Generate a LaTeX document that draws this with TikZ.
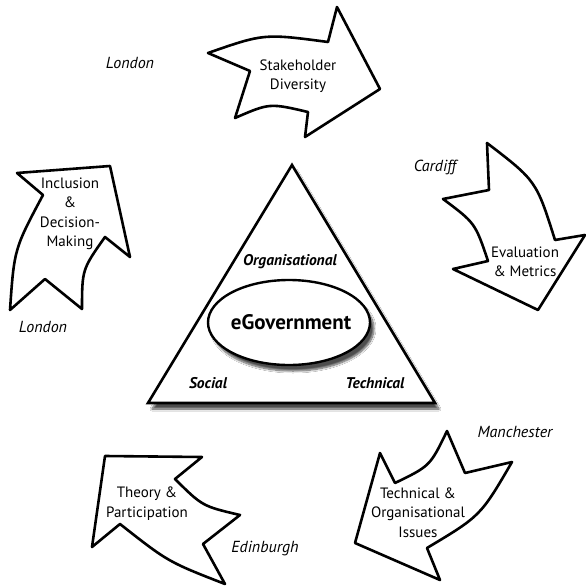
\documentclass[tikz,border=0pt]{standalone}
\usepackage{fontspec}
\setmainfont{PT Sans}
\usetikzlibrary{shadows.blur}
\tikzset{
  bigarrow/.style={line width=2.6pt, line join=round, fill=white},
  arrowtext/.style={align=center, font=\fontsize{15}{19.5}\selectfont, inner sep=0pt},
  city/.style={font=\fontsize{16}{18}\selectfont\itshape, inner sep=0pt},
  corner/.style={font=\fontsize{15.5}{18}\selectfont\bfseries\itshape, inner sep=0pt},
  softshadow/.style={blur shadow={shadow xshift=4pt, shadow yshift=-6pt, shadow blur steps=10, shadow opacity=70}}
}
\begin{document}
\begin{tikzpicture}[x=1pt, y=-1pt]
	\useasboundingbox[fill=white] (0,0) rectangle (586,586);

	% triangle and the centre
	\coordinate (apex) at (292,165);
	\coordinate (socialcorner) at (148,403);
	\coordinate (techcorner) at (435,403);
	\draw[line width=2.6pt, line join=miter, fill=white, softshadow] (apex) -- (techcorner) -- (socialcorner) -- cycle;
	\draw[line width=2.4pt, fill=white, softshadow] (289,322.5) ellipse (81pt and 42.5pt);
	\node[font=\fontsize{21}{23}\selectfont\bfseries, inner sep=0pt] (egov) at (291,322.5) {eGovernment};
	\node[corner] (organisational) at (290,262) {Organisational};
	\node[corner] (social) at (208,383) {Social};
	\node[corner] (technical) at (375,383) {Technical};

	% top arrow
	\draw[bigarrow] (208,53) -- (250,71) -- (235,118) .. controls (269.5,103) .. (308,112)
		-- (305,137) -- (380,89) -- (337,7) -- (328,42) .. controls (264,33.5) .. cycle;
	\node[arrowtext] (stakeholder) at (298,76) {Stakeholder\\Diversity};
	\node[city] (londontop) at (130,63) {London};

	% right arrow
	\draw[bigarrow] (487,143) -- (489,190) -- (443,199) .. controls (475.2,223) .. (488,261)
		-- (453,269) -- (538,310) -- (585,235) -- (555,240) .. controls (536.3,180.8) .. cycle;
	\node[arrowtext] (evaluation) at (525,262) {Evaluation\\\& Metrics};
	\node[city] (cardiff) at (435,167) {Cardiff};

	% bottom right arrow
	\draw[bigarrow] (447,431) -- (465,473) -- (512,462) .. controls (480.6,515.9) .. (427,548)
		-- (440,580) -- (355,543) -- (380,453) -- (395,483) .. controls (430.1,466) .. cycle;
	\node[arrowtext] (issues) at (418,512.5) {Technical \&\\Organisational\\Issues};
	\node[city] (manchester) at (515,432) {Manchester};

	% bottom left arrow
	\draw[bigarrow] (240,515) -- (203,544) -- (225,584) .. controls (168,561.8) .. (120,524)
		-- (92,547) -- (105,456) -- (202,457) -- (175,479) .. controls (202.4,506.2) .. cycle;
	\node[arrowtext] (theory) at (147,503.5) {Theory \&\\Participation};
	\node[city] (edinburgh) at (265,549) {Edinburgh};

	% left arrow
	\draw[bigarrow] (82,309) -- (45,279) -- (10,310) .. controls (14.2,249) .. (43,195)
		-- (17,173) -- (110,166) -- (130,257) -- (105,237) .. controls (82.1,269.4) .. cycle;
	\node[arrowtext] (inclusion) at (70,214) {Inclusion\\\&\\Decision-\\Making};
	\node[city] (londonleft) at (43,327) {London};
\end{tikzpicture}
\end{document}
